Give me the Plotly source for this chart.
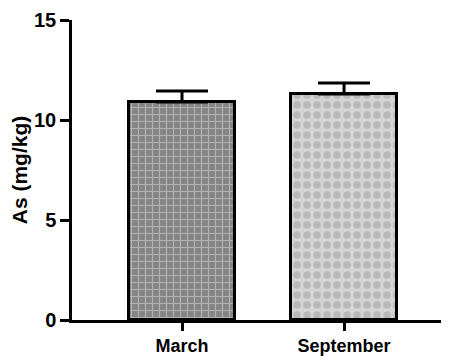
import plotly.graph_objects as go

categories = ["March", "September"]
values = [10.9, 11.3]
errors = [0.55, 0.55]
fill_colors = ["#858585", "#d4d4d4"]
pattern_colors = ["#e0e0e0", "#9c9c9c"]
pattern_shapes = ["+", "."]
pattern_sizes = [7, 10]
pattern_solidity = [0.3, 0.45]

fig = go.Figure()
for i, cat in enumerate(categories):
    fig.add_trace(go.Bar(
        x=[i], y=[values[i]],
        width=0.654,
        marker=dict(
            color=fill_colors[i],
            line=dict(color="black", width=3),
            pattern=dict(shape=pattern_shapes[i], fgcolor=pattern_colors[i],
                         bgcolor=fill_colors[i], size=pattern_sizes[i],
                         solidity=pattern_solidity[i], fillmode="overlay"),
        ),
        error_y=dict(type="data", array=[errors[i]], arrayminus=[0], symmetric=False,
                     color="black", thickness=3, width=26),
        showlegend=False,
    ))

fig.update_layout(
    width=441, height=355,
    margin=dict(l=64, r=0, t=12, b=43),
    plot_bgcolor="white", paper_bgcolor="white",
    font=dict(family="Liberation Sans, Arial", color="black"),
    bargap=0,
)
fig.update_xaxes(
    range=[-0.679, 1.648],
    tickvals=[0, 1], ticktext=["<b>%s</b>" % c for c in categories],
    ticks="outside", ticklen=8, tickwidth=2.5, tickcolor="black",
    showline=True, linecolor="black", linewidth=2.5,
    showgrid=False, zeroline=False,
    tickfont=dict(size=18),
)
fig.update_yaxes(
    range=[0, 15],
    tickvals=[0, 5, 10, 15], ticktext=["<b>0</b>", "<b>5</b>", "<b>10</b>", "<b>15</b>"],
    ticks="outside", ticklen=9, tickwidth=2.5, tickcolor="black",
    showline=True, linecolor="black", linewidth=2.5,
    showgrid=False, zeroline=False,
    tickfont=dict(size=20),
    title=dict(text="<b>As (mg/kg)</b>", font=dict(size=21), standoff=4),
)

fig.write_html("out.html")
